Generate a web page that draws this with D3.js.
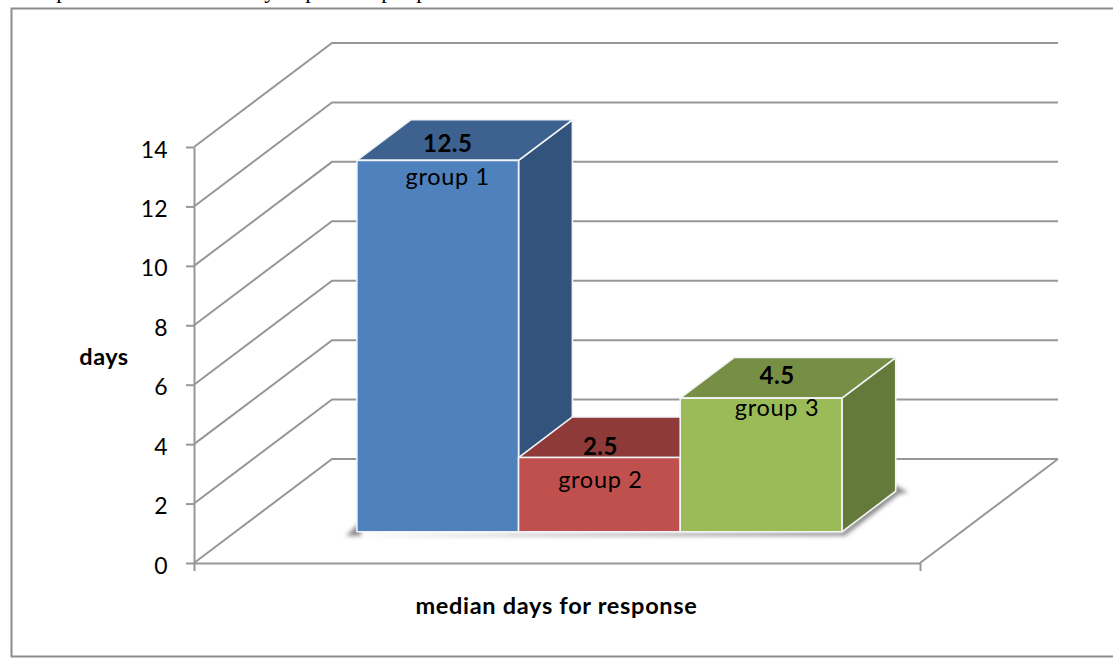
<!DOCTYPE html>
<html>
<head>
<meta charset="utf-8">
<style>
  html, body { margin: 0; padding: 0; background: #fff; overflow: hidden; }
  svg { display: block; }
  text { font-family: Lato, "Open Sans", sans-serif; fill: #000; }
</style>
</head>
<body>
<svg id="chart" width="1113" height="658"></svg>
<script src="https://cdn.jsdelivr.net/npm/d3@7/dist/d3.min.js"></script>
<script>
// Median response time per group
const groups = ["group 1", "group 2", "group 3"];
const medianDays = [12.5, 2.5, 4.5];
const yTicks = [0, 2, 4, 6, 8, 10, 12, 14];
const frontColors = ["#4f81bd", "#c0504d", "#9bbb59"];
const topColors = ["#3d628f", "#8e3a38", "#778f44"];
const sideColors = ["#32547c", "#8a3735", "#647a3a"];
const yTitle = "days";
const xTitle = "median days for response";
// Letter tails of the line of body text running off the top edge
const headerGlyphs = ["p", "y", "p", "p", "p"];

const svg = d3.select("#chart");
const W = 1113, H = 658;

// Oblique projection: depth 0 is the front edge of the floor, depth 1 the back wall
const depthDX = 138, depthDY = -104;
const barDepthStart = 0.30, barDepthEnd = 0.69;

const x = d3.scaleLinear().domain([0, 1]).range([194, 920]);
const y = d3.scaleLinear().domain([0, 14]).range([563, 147]);
const band = d3.scaleBand().domain(groups).range([315.5, 800.5]);
const project = (px, value, depth) => [px + depth * depthDX, y(value) + depth * depthDY];
const line = d3.line();

// Frame around the chart, open past the right edge
svg.append("path")
  .attr("d", `M${W + 5},8.5H11.5V656.5H${W + 5}`)
  .attr("fill", "none").attr("stroke", "#8c8c8c").attr("stroke-width", 2);

// Clipped line of text above the frame
const headerX = [62, 270, 311, 387, 422];
svg.append("g").selectAll("text").data(headerGlyphs).join("text")
  .attr("x", (d, i) => headerX[i]).attr("y", -2)
  .attr("text-anchor", "middle")
  .style("font-family", "'Liberation Serif', serif")
  .style("font-size", "23px")
  .text(d => d);

const defs = svg.append("defs");
defs.append("filter").attr("id", "soft")
  .attr("x", "-10%").attr("y", "-10%").attr("width", "120%").attr("height", "120%")
  .append("feGaussianBlur").attr("stdDeviation", 2);

// Wall gridlines: up the side wall, then across the back wall
const grid = svg.append("g").attr("fill", "none").attr("stroke", "#979797").attr("stroke-width", 2);
grid.selectAll("path").data(yTicks).join("path")
  .attr("d", v => line([project(x(0), v, 0), project(x(0), v, 1), project(x(1), v, 1)]));
// Right edge of the floor
grid.append("path").attr("d", line([project(x(1), 0, 0), project(x(1), 0, 1)]));

// Axes
const axisStyle = g => {
  g.selectAll(".domain, .tick line").attr("stroke", "#979797").attr("stroke-width", 2);
};
svg.append("g").attr("transform", `translate(${x(0)},0)`)
  .call(d3.axisLeft(y).tickValues(yTicks).tickSize(8).tickPadding(18).tickSizeOuter(0))
  .call(axisStyle)
  .call(g => g.selectAll("text")
    .style("font-family", "Lato, sans-serif").style("font-size", "23px").style("letter-spacing", "0.3px")
    .attr("fill", "#000").attr("dy", "10px"));
svg.append("g").attr("transform", `translate(0,${y(0)})`)
  .call(d3.axisBottom(x).tickValues([0, 1]).tickFormat("").tickSize(8).tickSizeOuter(0))
  .call(axisStyle);

// Soft floor shadow beneath the bars
const floorFront = project(band(groups[0]), 0, barDepthStart);
const floorEnd = project(band(groups[2]) + band.bandwidth(), 0, barDepthStart);
const floorBack = project(band(groups[2]) + band.bandwidth(), 0, barDepthEnd);
svg.append("path")
  .attr("d", line([
    [floorFront[0] - 11, floorFront[1] + 4],
    [floorFront[0] + 4, floorFront[1] - 10],
    [floorFront[0] + 4, floorFront[1] + 4],
    [floorEnd[0] + 3, floorEnd[1] + 4],
    [floorBack[0] + 3, floorBack[1] + 3],
    [floorBack[0] + 12, floorBack[1] + 1],
    [floorBack[0], floorBack[1] - 6],
    [floorEnd[0], floorEnd[1]]
  ]) + "Z")
  .attr("fill", "#8a8a8a").attr("filter", "url(#soft)");

// Bars, each built from three faces
const bars = svg.append("g").selectAll("g").data(groups).join("g");
bars.each(function (name, i) {
  const g = d3.select(this);
  const v = medianDays[i];
  const x0 = band(name), x1 = x0 + band.bandwidth();
  const face = (pts, fill) => g.append("path")
    .attr("d", line(pts) + "Z").attr("fill", fill)
    .attr("stroke", "#f2f4f7").attr("stroke-width", 1.6).attr("stroke-linejoin", "round");
  face([project(x1, 0, barDepthStart), project(x1, v, barDepthStart), project(x1, v, barDepthEnd), project(x1, 0, barDepthEnd)], sideColors[i]);
  face([project(x0, v, barDepthStart), project(x1, v, barDepthStart), project(x1, v, barDepthEnd), project(x0, v, barDepthEnd)], topColors[i]);
  face([project(x0, 0, barDepthStart), project(x1, 0, barDepthStart), project(x1, v, barDepthStart), project(x0, v, barDepthStart)], frontColors[i]);
});

// Data labels sit where they were dragged by hand, so each has its own offset
const labelShiftX = [10, 1, 16];
const valueShiftY = [-8, -3, -14];
const nameShiftY = [25, 30, 18];
const labelX = i => project(band(groups[i]) + band.bandwidth() / 2, 0, barDepthStart)[0] + labelShiftX[i];
const labelTop = i => project(0, medianDays[i], barDepthStart)[1];
const labels = svg.append("g").attr("text-anchor", "middle");
labels.selectAll(".value").data(medianDays).join("text").attr("class", "value")
  .attr("x", (d, i) => labelX(i)).attr("y", (d, i) => labelTop(i) + valueShiftY[i])
  .style("font-size", "24px").style("font-weight", 700).style("letter-spacing", "0.5px")
  .text(d => d);
labels.selectAll(".name").data(groups).join("text").attr("class", "name")
  .attr("x", (d, i) => labelX(i)).attr("y", (d, i) => labelTop(i) + nameShiftY[i])
  .style("font-size", "23.5px").style("letter-spacing", "0.7px")
  .text(d => d);

// Axis titles
svg.append("text").attr("x", 104).attr("y", 365).attr("text-anchor", "middle")
  .style("font-size", "23.5px").style("font-weight", 700).style("letter-spacing", "0.5px").text(yTitle);
svg.append("text").attr("x", 556.5).attr("y", 614).attr("text-anchor", "middle")
  .style("font-size", "23.5px").style("font-weight", 700).style("letter-spacing", "0.7px").text(xTitle);
</script>
</body>
</html>
